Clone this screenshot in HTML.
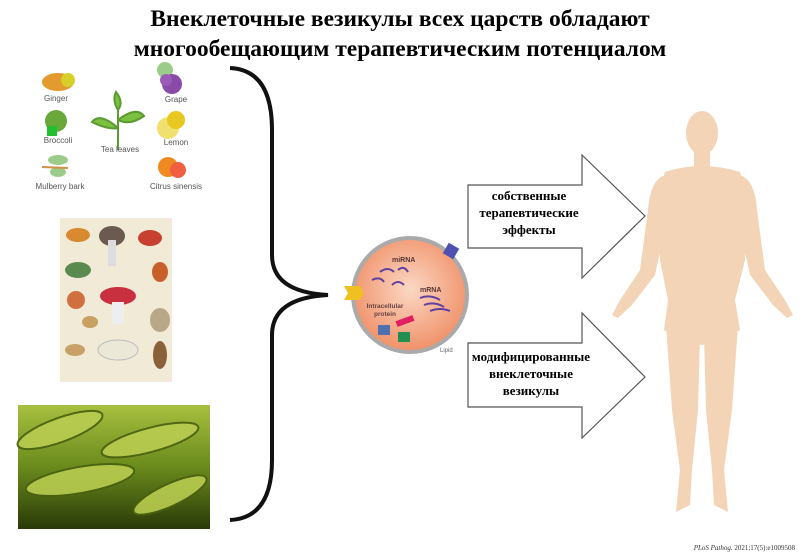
<!DOCTYPE html>
<html><head><meta charset="utf-8"><style>
body{margin:0;background:#fff;}
svg{display:block;}
.t{font-family:"Liberation Serif",serif;font-weight:bold;}
.s{font-family:"Liberation Sans",sans-serif;}
</style></head><body>
<svg width="800" height="557" viewBox="0 0 800 557" xmlns="http://www.w3.org/2000/svg">
<rect width="800" height="557" fill="#fff"/>
<text class="t" x="400" y="26" font-size="23.5" text-anchor="middle">Внеклеточные везикулы всех царств обладают</text>
<text class="t" x="400" y="56" font-size="23.5" text-anchor="middle">многообещающим терапевтическим потенциалом</text>

<!-- plants -->
<ellipse cx="58" cy="82" rx="16" ry="9" fill="#e39a2e"/><circle cx="68" cy="80" r="7" fill="#d8d028"/>
<text class="s" x="56" y="101" font-size="8" text-anchor="middle" fill="#555">Ginger</text>
<circle cx="56" cy="121" r="11" fill="#6aa83a"/><rect x="47" y="126" width="10" height="10" fill="#22c030"/>
<text class="s" x="58" y="143" font-size="8" text-anchor="middle" fill="#555">Broccoli</text>
<ellipse cx="58" cy="160" rx="10" ry="5" fill="#9ccc8a"/><ellipse cx="58" cy="172" rx="8" ry="5" fill="#9ccc8a"/><line x1="42" y1="167" x2="68" y2="168" stroke="#d0904a" stroke-width="2"/>
<text class="s" x="60" y="189" font-size="8" text-anchor="middle" fill="#555">Mulberry bark</text>
<path d="M118 150 L118 108 M118 128 Q100 112 92 122 Q108 130 118 128 M118 120 Q136 106 144 116 Q130 126 118 120 M118 110 Q112 100 116 92 Q124 102 118 110" stroke="#5a9a30" stroke-width="2" fill="#7cc040"/>
<text class="s" x="120" y="152" font-size="8" text-anchor="middle" fill="#555">Tea leaves</text>
<circle cx="165" cy="70" r="8" fill="#9ccc8a"/><circle cx="172" cy="84" r="10" fill="#8a4aa8"/><circle cx="166" cy="80" r="6" fill="#9a5ab8"/>
<text class="s" x="176" y="102" font-size="8" text-anchor="middle" fill="#555">Grape</text>
<circle cx="168" cy="128" r="11" fill="#f0e070"/><circle cx="176" cy="120" r="9" fill="#e8c820"/>
<text class="s" x="176" y="145" font-size="8" text-anchor="middle" fill="#555">Lemon</text>
<circle cx="168" cy="167" r="10" fill="#f08a20"/><circle cx="178" cy="170" r="8" fill="#f06040"/>
<text class="s" x="176" y="189" font-size="8" text-anchor="middle" fill="#555">Citrus sinensis</text>

<!-- mushrooms -->
<rect x="60" y="218" width="112" height="164" fill="#f1ead6"/>
<ellipse cx="78" cy="235" rx="12" ry="7" fill="#d88a30"/><ellipse cx="112" cy="236" rx="13" ry="10" fill="#6a5a50"/><rect x="108" y="240" width="8" height="26" fill="#ddd"/>
<ellipse cx="150" cy="238" rx="12" ry="8" fill="#c84030"/><ellipse cx="78" cy="270" rx="13" ry="8" fill="#5a8a50"/>
<ellipse cx="160" cy="272" rx="8" ry="10" fill="#c8602a"/><ellipse cx="76" cy="300" rx="9" ry="9" fill="#d07040"/>
<ellipse cx="118" cy="296" rx="18" ry="9" fill="#c83040"/><rect x="112" y="302" width="12" height="22" fill="#eee"/>
<ellipse cx="160" cy="320" rx="10" ry="12" fill="#b8a888"/><ellipse cx="90" cy="322" rx="8" ry="6" fill="#c8a060"/>
<ellipse cx="75" cy="350" rx="10" ry="6" fill="#c8a068"/><ellipse cx="118" cy="350" rx="20" ry="10" fill="#ece8d8" stroke="#bbb"/>
<ellipse cx="160" cy="355" rx="7" ry="14" fill="#8a6038"/>

<!-- bacteria -->
<defs><linearGradient id="bg" x1="0" y1="0" x2="0" y2="1"><stop offset="0" stop-color="#a8c040"/><stop offset="0.5" stop-color="#6a8a1c"/><stop offset="1" stop-color="#2a3a08"/></linearGradient>
<radialGradient id="cg" cx="0.5" cy="0.45" r="0.6"><stop offset="0" stop-color="#fbd8c4"/><stop offset="1" stop-color="#ef8a60"/></radialGradient></defs>
<rect x="18" y="405" width="192" height="124" fill="url(#bg)"/>
<g fill="#b8cc50" stroke="#4a6010" stroke-width="2" opacity="0.9"><ellipse cx="60" cy="430" rx="45" ry="12" transform="rotate(-20 60 430)"/><ellipse cx="150" cy="440" rx="50" ry="12" transform="rotate(-15 150 440)"/><ellipse cx="80" cy="480" rx="55" ry="13" transform="rotate(-10 80 480)"/><ellipse cx="170" cy="495" rx="40" ry="11" transform="rotate(-25 170 495)"/></g>

<!-- brace -->
<path d="M230 68 Q272 70 272 130 L272 255 Q272 292 328 295 Q272 298 272 335 L272 460 Q272 518 230 520" stroke="#111" stroke-width="4" fill="none"/>

<!-- cell -->
<circle cx="410" cy="295" r="57" fill="url(#cg)" stroke="#aaa" stroke-width="4"/>
<path d="M344 286 L360 286 L364 293 L360 300 L344 300 L348 293Z" fill="#f0c020"/>
<text class="s" x="392" y="262" font-size="7" font-weight="bold" fill="#533">miRNA</text>
<text class="s" x="420" y="292" font-size="7" font-weight="bold" fill="#533">mRNA</text>
<text class="s" x="385" y="308" font-size="6.5" font-weight="bold" fill="#644" text-anchor="middle">Intracellular</text>
<text class="s" x="385" y="316" font-size="6.5" font-weight="bold" fill="#644" text-anchor="middle">protein</text>
<path d="M380 272 q8 -6 14 0 M398 270 q6 -5 10 2 M372 280 q8 -4 12 2 M392 285 q6 -6 12 0 M420 298 q10 -4 20 2 M424 305 q10 -4 20 2 M430 311 q10 -4 20 0" stroke="#6040a0" stroke-width="2" fill="none"/>
<rect x="396" y="318" width="18" height="6" fill="#e02060" transform="rotate(-20 405 321)"/>
<rect x="378" y="325" width="12" height="10" fill="#5070b0"/><rect x="398" y="332" width="12" height="10" fill="#209050"/>
<rect x="445" y="245" width="12" height="12" fill="#5050b0" transform="rotate(30 451 251)"/>
<text class="s" x="440" y="352" font-size="6" fill="#666">Lipid</text>

<!-- arrows -->
<path d="M468 185 L582 185 L582 155 L645 216 L582 278 L582 248 L468 248Z" fill="#fff" stroke="#555" stroke-width="1.2"/>
<text class="t" x="529" y="200" font-size="13" text-anchor="middle">собственные</text>
<text class="t" x="529" y="217" font-size="13" text-anchor="middle">терапевтические</text>
<text class="t" x="529" y="234" font-size="13" text-anchor="middle">эффекты</text>
<path d="M468 343 L582 343 L582 313 L645 377 L582 438 L582 407 L468 407Z" fill="#fff" stroke="#555" stroke-width="1.2"/>
<text class="t" x="531" y="361" font-size="13" text-anchor="middle">модифицированные</text>
<text class="t" x="531" y="378" font-size="13" text-anchor="middle">внеклеточные</text>
<text class="t" x="531" y="395" font-size="13" text-anchor="middle">везикулы</text>

<!-- human -->
<g fill="#f3d4b6">
<ellipse cx="702" cy="133" rx="16" ry="22"/>
<rect x="694" y="150" width="16" height="18"/>
<path d="M665 172 Q702 160 740 172 L748 200 L745 260 L735 300 L740 330 L720 340 L702 345 L684 340 L664 330 L668 300 L660 260 L657 200Z"/>
<path d="M665 175 Q650 180 648 210 L640 270 L620 300 L612 315 L618 318 L632 305 L655 275 L668 215Z"/>
<path d="M740 175 Q755 180 757 210 L765 270 L785 300 L793 315 L787 318 L773 305 L750 275 L737 215Z"/>
<path d="M666 325 L700 335 L698 410 L692 470 L690 505 L676 512 L680 470 L672 410Z"/>
<path d="M738 325 L704 335 L706 410 L712 470 L714 505 L728 512 L724 470 L732 410Z"/>
</g>
<text x="795" y="550" font-family="Liberation Serif,serif" font-size="7" text-anchor="end" fill="#333"><tspan font-style="italic">PLoS Pathog.</tspan> 2021;17(5):e1009508</text>
</svg>
</body></html>
